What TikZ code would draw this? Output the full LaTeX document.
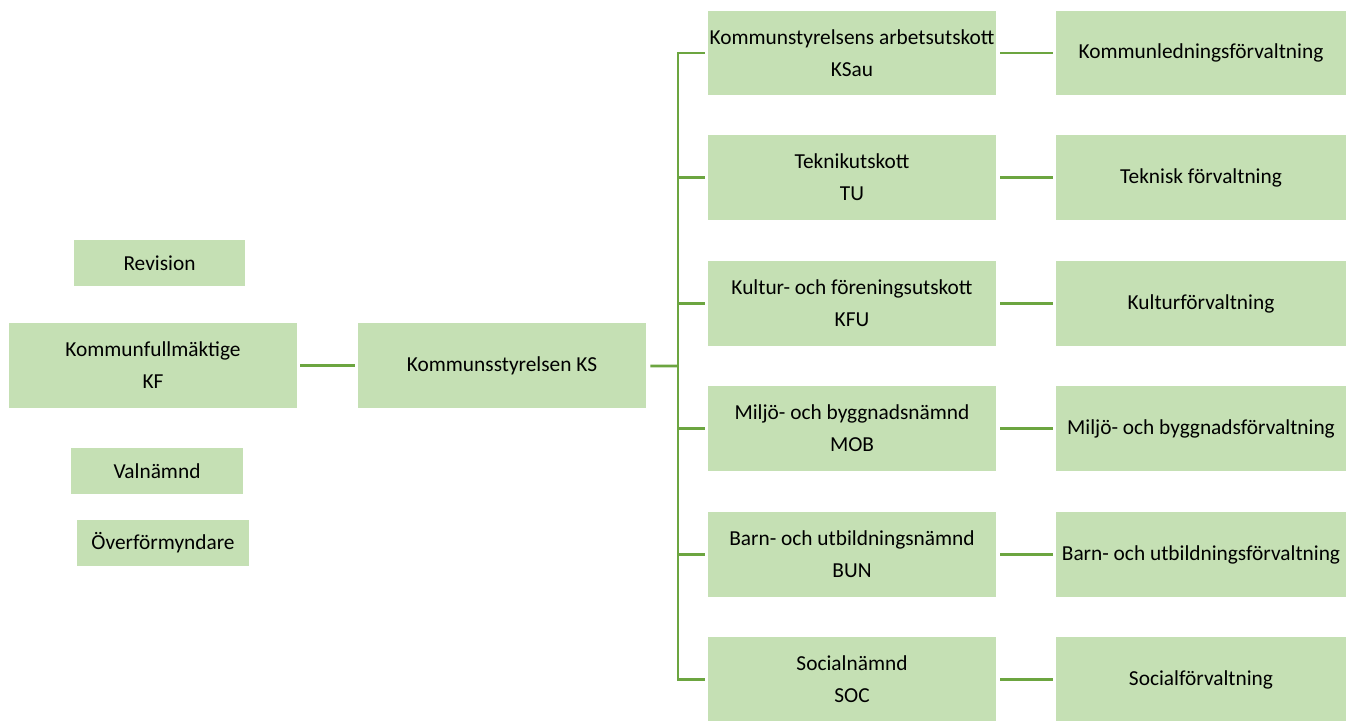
\documentclass[tikz,border=0pt]{standalone}
\usepackage{fontspec}
\setmainfont{Carlito}
\definecolor{boxgreen}{HTML}{C5E0B4}
\definecolor{linegreen}{HTML}{6CA540}
\tikzset{
    box/.style={fill=boxgreen, align=center, inner sep=0pt, font=\fontsize{12.15}{18.2}\selectfont},
    small/.style={box, minimum width=3.44cm, minimum height=0.92cm},
    wide/.style={box, minimum width=5.76cm, minimum height=1.7cm},
    link/.style={draw=linegreen, line width=1.6pt}
}
\begin{document}
\begin{tikzpicture}[x=0.02cm,y=-0.02cm]
            \useasboundingbox (0,0) rectangle (1355,720);
            \node[small] (rev) at (159.5,263) {Revision};
            \node[wide] (kf) at (153,365.5) {Kommunfullmäktige\\KF};
            \node[small] (val) at (157,471) {Valnämnd};
            \node[small] (ovf) at (163,542.5) {Överförmyndare};
            \node[wide] (ks) at (502,365.5) {Kommunsstyrelsen KS};
            \foreach \i \y \a \b in {1/53/{Kommunstyrelsens arbetsutskott\\KSau}/Kommunledningsförvaltning,
                    2/177.5/{Teknikutskott\\TU}/Teknisk förvaltning,
                    3/303.5/{Kultur- och föreningsutskott\\KFU}/Kulturförvaltning,
                    4/428.5/{Miljö- och byggnadsnämnd\\MOB}/{Miljö- och byggnadsförvaltning},
                    5/554.5/{Barn- och utbildningsnämnd\\BUN}/{Barn- och utbildningsförvaltning},
                    6/679.5/{Socialnämnd\\SOC}/Socialförvaltning}{
                    \node[wide] (n\i) at (852,\y) {\a};
                    \node[wide, minimum width=5.8cm] (f\i) at (1201,\y) {\b};
                }
            \coordinate (bus) at (678,366);
            \draw[link, shorten <=0.06cm, shorten >=0.06cm] (kf) -- (ks);
            \draw[link, shorten <=0.08cm] (ks) -- (bus);
            \draw[link, line cap=rect] (bus |- n1.west) -- (bus |- n6.west);
            \foreach \i in {1,...,6}{
                    \draw[link, shorten >=0.06cm] (bus |- n\i.west) -- (n\i.west);
                    \draw[link, shorten <=0.08cm, shorten >=0.06cm] (n\i) -- (f\i);
                }
        \end{tikzpicture}
\end{document}
